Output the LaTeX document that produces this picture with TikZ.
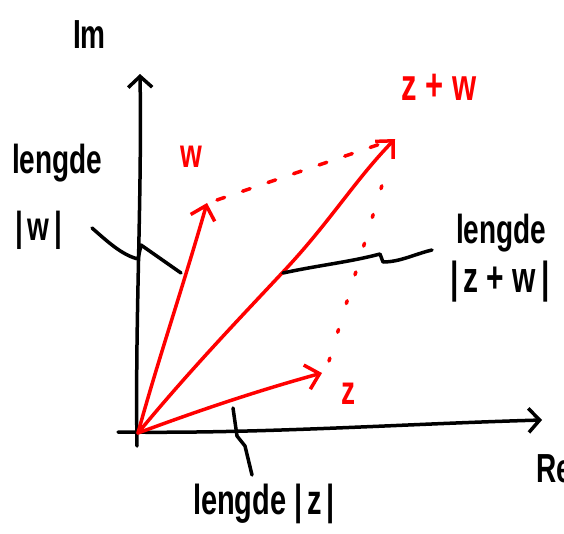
\documentclass[tikz,border=0pt]{standalone}
\usepackage{fontspec}
\setmainfont{Liberation Sans}
\usetikzlibrary{arrows.meta}
\newcommand\hw[1]{\scalebox{1}[1.45]{#1}}
\begin{document}
\begin{tikzpicture}[x=1pt,y=-1pt,
  ink/.style={line width=3.5pt,line cap=round,line join=round},
  axis/.style={ink,black,-{Straight Barb[length=11pt,width=24pt]}},
  vec/.style={ink,red,-{Straight Barb[length=13pt,width=25pt]}},
  lead/.style={ink,black},
  hand/.style={font=\fontsize{28}{32}\selectfont\bfseries,inner sep=0pt},
  lbl/.style={hand,text=black},
  rlbl/.style={hand,text=red},
  dashl/.style={ink,red,dash pattern=on 8pt off 19pt},
  dotl/.style={ink,red,dash pattern=on 3pt off 27pt}]
\clip (0,0) rectangle (564,533);
% key points
\coordinate (O) at (138,433);
\coordinate (W) at (207,203);
\coordinate (Z) at (322,373);
\coordinate (ZW) at (395,139);
\coordinate (ybot) at (137,446);
\coordinate (ytop) at (140,74);
\coordinate (xleft) at (118,432);
\coordinate (xright) at (542,420);
% axes
\draw[axis] (ybot) .. controls (135,320) and (142,200) .. (ytop);
\draw[axis] (xleft) .. controls (260,434) and (400,424) .. (xright);
% vectors
\draw[vec] (O) .. controls (158,360) and (182,290) .. (W);
\draw[vec] (O) .. controls (190,370) and (240,318) .. (283,272) .. controls (330,222) and (355,180) .. (ZW);
\draw[vec] (O) .. controls (200,410) and (260,390) .. (Z);
% parallelogram sides
\coordinate (wd) at (217,200);
\coordinate (zwd) at (386,142);
\coordinate (zd) at (329,361);
\coordinate (zwe) at (386,172);
\draw[dashl] (wd) -- (zwd);
\draw[dotl] (zd) -- (zwe);
% labels
\node[lbl,anchor=base west] (im) at (73,48) {\hw{Im}};
\node[lbl,anchor=base west] (re) at (536,482) {\hw{Re}};
\node[rlbl,anchor=base] (wl) at (191,167) {\hw{w}};
\node[rlbl,anchor=base west,font=\fontsize{31}{36}\selectfont\bfseries] (zwl) at (401,100) {\hw{z + w}};
\node[rlbl,anchor=base] (zl) at (348,404) {\hw{z}};
\node[lbl,anchor=base west] (lw1) at (12,173) {\hw{lengde}};
\node[lbl,anchor=base west] (lw2) at (15,240) {\hw{|\,w\,|}};
\node[lbl,anchor=base west] (lzw1) at (456,243) {\hw{lengde}};
\node[lbl,anchor=base west,font=\fontsize{30}{36}\selectfont\bfseries] (lzw2) at (450,292) {\hw{|\,z + w\,|}};
\node[lbl,anchor=base,font=\fontsize{29}{36}\selectfont\bfseries] (lz) at (264,514) {\hw{lengde |\,z\,|}};
% leader lines
\coordinate (lwa) at (92,228);
\coordinate (lwb) at (138,259);
\coordinate (lwc) at (141,245);
\coordinate (lwd) at (181,273);
\draw[lead] (lwa) .. controls (108,242) and (122,255) .. (lwb) -- (lwc) -- (lwd);
\coordinate (lzwa) at (283,273);
\coordinate (lzwb) at (380,254);
\coordinate (lzwc) at (383,262);
\coordinate (lzwd) at (432,250);
\draw[lead] (lzwa) .. controls (320,265) and (350,262) .. (lzwb) -- (lzwc) .. controls (400,262) and (415,254) .. (lzwd);
\coordinate (lza) at (233,408);
\coordinate (lzb) at (237,436);
\coordinate (lzc) at (245,446);
\coordinate (lzd) at (252,475);
\draw[lead] (lza) -- (lzb) -- (lzc) -- (lzd);
\end{tikzpicture}
\end{document}
